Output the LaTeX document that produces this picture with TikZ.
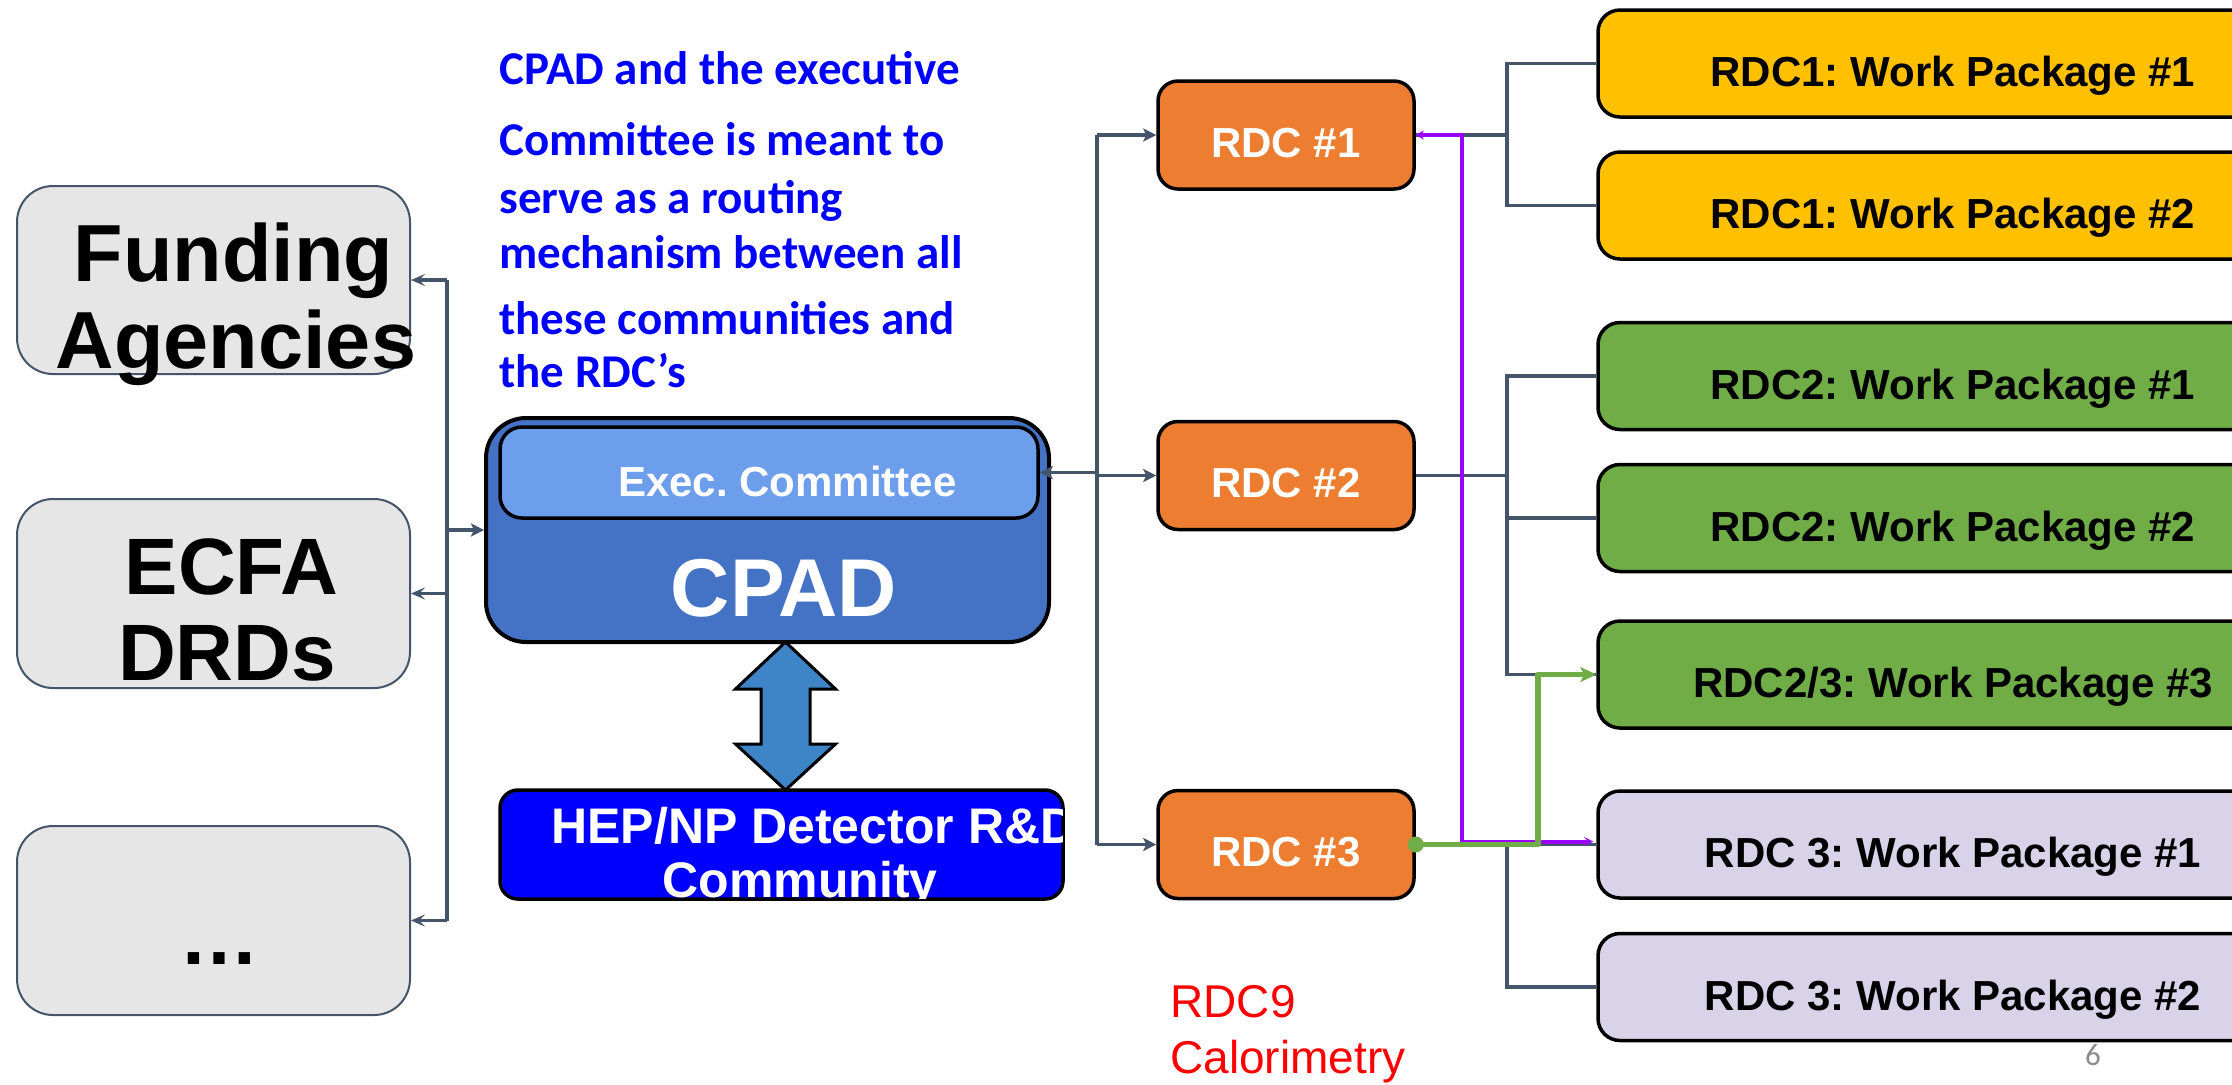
\documentclass[tikz,border=0pt]{standalone}
\usepackage{fontspec}
\setmainfont{Liberation Sans}
\newfontfamily\calibri{Carlito}
\usetikzlibrary{arrows.meta,calc}
\definecolor{slate}{HTML}{44546A}
\definecolor{boxgray}{HTML}{E6E6E6}
\definecolor{cpadblue}{HTML}{4472C4}
\definecolor{execblue}{HTML}{6D9EEB}
\definecolor{arrowblue}{HTML}{3D85C6}
\definecolor{hepblue}{HTML}{0000FF}
\definecolor{rdcorange}{HTML}{ED7D31}
\definecolor{wpyellow}{HTML}{FFC000}
\definecolor{wpgreen}{HTML}{70AD47}
\definecolor{wplav}{HTML}{D9D3E9}
\definecolor{purp}{HTML}{9900FF}
\definecolor{pagegray}{HTML}{8C8C8C}
\definecolor{textblue}{HTML}{0000FF}
\definecolor{textred}{HTML}{FF0000}
\frenchspacing
\begin{document}
\begin{tikzpicture}[x=0.5pt,y=-0.5pt,
  leftbox/.style={draw=slate, line width=1pt, fill=boxgray, rounded corners=18pt,
    minimum width=196.5pt, minimum height=94pt, inner sep=0pt},
  bigtxt/.style={font=\bfseries\fontsize{40.5pt}{43.5pt}\selectfont, anchor=base, inner sep=0pt, text=black},
  bluetxt/.style={font=\calibri\bfseries\fontsize{23.5pt}{28pt}\selectfont, anchor=base west, inner sep=0pt, text=textblue},
  rdcbox/.style={draw=black, line width=1.75pt, fill=rdcorange, rounded corners=10pt,
    minimum width=128pt, minimum height=54pt, inner sep=0pt, text=white,
    font=\bfseries\fontsize{21pt}{25pt}\selectfont, text height=22pt, text depth=0pt},
  wpbox/.style={draw=black, line width=1.75pt, rounded corners=11pt,
    minimum width=355pt, minimum height=53.5pt, inner sep=0pt, text=black,
    font=\bfseries\fontsize{21pt}{25pt}\selectfont, text height=23pt, text depth=0pt},
  conn/.style={draw=slate, line width=1.6pt},
  arr/.style={-{Stealth[length=6.5pt,width=6.5pt,inset=1.5pt]}},
  larr/.style={-{Stealth[length=7pt,width=6pt,inset=3pt]}},
]
\useasboundingbox (0,0) rectangle (2232,1084);
\clip (0,0) rectangle (2232,1084);
\fill[white] (0,0) rectangle (2232,1084);

% left boxes
\node[leftbox] (funding) at (213.5,280) {};
\node[leftbox, minimum height=94.5pt] (ecfa) at (213.5,593.5) {};
\node[leftbox, minimum height=94.5pt] (dots) at (213.5,920.5) {};
\node[bigtxt] (fundingA) at (233.5,281) {Funding};
\node[bigtxt] (fundingB) at (236,368) {Agencies};
\node[bigtxt, font=\bfseries\fontsize{40pt}{43pt}\selectfont] (ecfaA) at (231.5,594) {ECFA};
\node[bigtxt, font=\bfseries\fontsize{40pt}{43pt}\selectfont] (ecfaB) at (227,680.5) {DRDs};
\node[bigtxt, font=\bfseries\fontsize{40pt}{43pt}\selectfont] (dotsA) at (219.5,964) {…};

% blue explanatory text
\node[bluetxt] (b1) at (499,84) {CPAD and the executive};
\node[bluetxt] (b2) at (499,155) {Committee is meant to};
\node[bluetxt] (b3) at (499,213) {serve as a routing};
\node[bluetxt] (b4) at (499,268) {mechanism between all};
\node[bluetxt] (b5) at (499,334) {these communities and};
\node[bluetxt] (b6) at (499,387) {the RDC’s};

% CPAD
\node[draw=black, line width=2pt, fill=cpadblue, rounded corners=20pt,
  minimum width=281.5pt, minimum height=112pt, inner sep=0pt] (cpad) at (767.5,530) {};
\node[draw=black, line width=1.75pt, fill=execblue, rounded corners=11pt,
  minimum width=269pt, minimum height=45.5pt, inner sep=0pt] (exec) at (769,472.5) {};
\node[anchor=base, inner sep=0pt, text=white, font=\bfseries\fontsize{21pt}{25pt}\selectfont] (execT) at (787.5,496) {Exec. Committee};
\node[anchor=base, inner sep=0pt, text=white, font=\bfseries\fontsize{41pt}{48pt}\selectfont] (cpadT) at (784,616) {CPAD};

% HEP box
\node[draw=black, line width=1.75pt, fill=hepblue, rounded corners=9pt,
  minimum width=281.5pt, minimum height=54.5pt, inner sep=0pt] (hep) at (781.5,844.5) {};
\begin{scope}
  \clip[rounded corners=9pt] ($(hep.south west)+(2,-2)$) rectangle ($(hep.north east)+(-2,2)$);
  \node[anchor=base west, inner sep=0pt, text=white, font=\bfseries\fontsize{25pt}{27pt}\selectfont] (hepA) at (551,843.6) {HEP/NP Detector R\&D};
  \node[anchor=base, inner sep=0pt, text=white, font=\bfseries\fontsize{25pt}{27pt}\selectfont] (hepB) at (800,897) {Community};
\end{scope}

% double arrow between CPAD and HEP
\draw[line width=1.5pt, fill=arrowblue, line join=miter]
  (785.5,642) -- (835.5,689) -- (810,689) -- (810,744) -- (835.5,744) -- (785.5,790)
  -- (735.5,744) -- (761,744) -- (761,689) -- (735.5,689) -- cycle;

% RDC boxes
\node[rdcbox] (rdc1) at (1286,135) {RDC \#1};
\node[rdcbox] (rdc2) at (1286,475.5) {RDC \#2};
\node[rdcbox] (rdc3) at (1286,844.5) {RDC \#3};

% work packages
\node[wpbox, fill=wpyellow] (wp11) at (1953,63.5) {RDC1: Work Package \#1};
\node[wpbox, fill=wpyellow] (wp12) at (1953,205.5) {RDC1: Work Package \#2};
\node[wpbox, fill=wpgreen] (wp21) at (1953,376) {RDC2: Work Package \#1};
\node[wpbox, fill=wpgreen] (wp22) at (1953,518) {RDC2: Work Package \#2};
\node[wpbox, fill=wpgreen] (wp23) at (1953,674.5) {RDC2/3: Work Package \#3};
\node[wpbox, fill=wplav] (wp31) at (1953,844.5) {RDC 3: Work Package \#1};
\node[wpbox, fill=wplav] (wp32) at (1953,987) {RDC 3: Work Package \#2};

% left bus
\coordinate (lbus) at (447,0);
\draw[conn] (lbus |- funding.east) -- (lbus |- dots.east);
\draw[conn,larr] (lbus |- funding.east) -- (funding.east);
\draw[conn,larr] (lbus |- ecfa.east) -- (ecfa.east);
\draw[conn,larr] (lbus |- dots.east) -- (dots.east);
\draw[conn,arr] (lbus |- cpad.west) -- (cpad.west);

% middle bus
\coordinate (mbus) at (1097,0);
\draw[conn] (mbus |- rdc1.west) -- (mbus |- rdc3.west);
\draw[conn,arr] (mbus |- rdc1.west) -- (rdc1.west);
\draw[conn,arr] (mbus |- rdc2.west) -- (rdc2.west);
\draw[conn,arr] (mbus |- rdc3.west) -- (rdc3.west);
\draw[conn,arr] (mbus |- exec.east) -- (exec.east);

% right trunks
\coordinate (rt) at (1507,0);
\draw[conn] (wp11.west) -- (rt |- wp11.west) -- (rt |- wp12.west) -- (wp12.west);
\draw[conn] (rdc1.east) -- (rt |- rdc1.east);
\draw[conn] (wp21.west) -- (rt |- wp21.west) -- (rt |- wp23.west) -- (wp23.west);
\draw[conn] (rdc2.east) -- (rt |- rdc2.east);
\draw[conn] (rt |- wp22.west) -- (wp22.west);
\draw[conn] (rdc3.east) -- (wp31.west);
\draw[conn] (rt |- rdc3.east) -- (rt |- wp32.west) -- (wp32.west);

% purple link RDC1 -- RDC3 WP1
\coordinate (pv) at (1462,0);
\draw[purp, line width=2pt,
  {Stealth[length=4pt,width=4.5pt]}-{Stealth[length=4.5pt,width=4.5pt,inset=2pt]}]
  (rdc1.east) -- (pv |- rdc1.east) -- ($(pv |- wp31.west)+(0,-3)$) -- ($(wp31.west)+(-3,-3)$);

% green link RDC3 -- RDC2/3 WP3
\coordinate (gv) at (1538,0);
\draw[wpgreen, line width=2.8pt, line join=round, -{Stealth[length=8pt,width=7.5pt,inset=2pt]}]
  (rdc3.east) -- (gv |- rdc3.east) -- (gv |- wp23.west) -- (wp23.west);
\fill[wpgreen] (rdc3.east) circle (4pt);

% annotations
\node[anchor=base west, inner sep=0pt, text=textred, font=\fontsize{23pt}{28pt}\selectfont] (rdc9A) at (1170,1017) {RDC9};
\node[anchor=base west, inner sep=0pt, text=textred, font=\fontsize{23pt}{28pt}\selectfont] (rdc9B) at (1170,1073) {Calorimetry};
\node[anchor=base, inner sep=0pt, text=pagegray, font=\calibri\fontsize{15.5pt}{18pt}\selectfont] (page) at (2093,1065) {6};
\end{tikzpicture}
\end{document}
